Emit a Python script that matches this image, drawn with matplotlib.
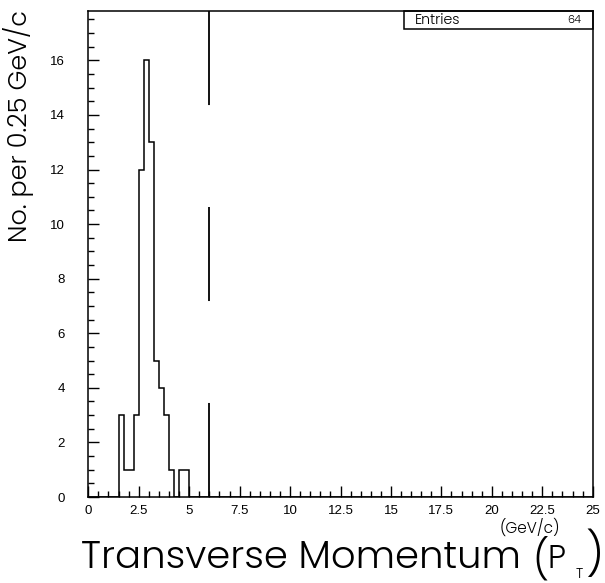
import numpy as np
import matplotlib
matplotlib.use("Agg")
import matplotlib.pyplot as plt
from matplotlib.ticker import MultipleLocator, FixedLocator

# Transverse momentum spectrum, 0.25 GeV/c bins
bin_width = 0.25
pt_range = (0.0, 25.0)
filled_bin_lo = [1.50, 1.75, 2.00, 2.25, 2.50, 2.75, 3.00, 3.25, 3.50, 3.75, 4.00, 4.25, 4.50, 4.75]
filled_counts = [3, 1, 1, 3, 12, 16, 13, 5, 4, 3, 1, 0, 1, 1]
entries = 64
cut_pt = 6.0

x_tick_values = [0, 2.5, 5, 7.5, 10, 12.5, 15, 17.5, 20, 22.5, 25]
x_tick_labels = ["0", "2.5", "5", "7.5", "10", "12.5", "15", "17.5", "20", "22.5", "25"]
y_tick_values = [0, 2, 4, 6, 8, 10, 12, 14, 16]

edges = np.arange(pt_range[0], pt_range[1] + bin_width / 2, bin_width)
counts = np.zeros(len(edges) - 1)
for lo, c in zip(filled_bin_lo, filled_counts):
    counts[int(round((lo - pt_range[0]) / bin_width))] = c

plt.rcParams["lines.scale_dashes"] = False
W, H = 605, 583
fig = plt.figure(figsize=(W / 100, H / 100), dpi=100)
renderer = fig.canvas.get_renderer()


def px(x, y):
    """Pixel position (from the top-left corner) to figure fraction."""
    return x / W, 1 - y / H


def fit_width(txt, width_px):
    """Rescale a text's font size so its rendered extent spans width_px."""
    bb = txt.get_window_extent(renderer)
    w = bb.height if txt.get_rotation() in (90, 270) else bb.width
    txt.set_fontsize(txt.get_fontsize() * width_px / w)


ax_left, ax_right, ax_top, ax_bottom = 88.3, 592.7, 10.7, 497.0
ax = fig.add_axes([ax_left / W, 1 - ax_bottom / H,
                   (ax_right - ax_left) / W, (ax_bottom - ax_top) / H])

ax.stairs(counts, edges, color="black", linewidth=1.1, baseline=0)
ax.axvline(cut_pt, color="black", linewidth=1.3, linestyle=(0, (67.7, 73.4)))

ax.set_xlim(*pt_range)
ax.set_ylim(0, 17.82)

tick_font = dict(family="Liberation Sans", size=9.5)
ax.xaxis.set_major_locator(FixedLocator(x_tick_values))
ax.set_xticklabels(x_tick_labels, **tick_font)
ax.xaxis.set_minor_locator(MultipleLocator(0.5))
ax.yaxis.set_major_locator(FixedLocator(y_tick_values))
ax.set_yticklabels([str(v) for v in y_tick_values], **tick_font)
ax.yaxis.set_minor_locator(MultipleLocator(0.5))
ax.tick_params(which="both", direction="in", top=False, right=False, width=1.0)
ax.tick_params(which="major", length=8)
ax.tick_params(which="minor", length=4)
ax.tick_params(axis="x", pad=6)
ax.tick_params(axis="y", pad=17)
for s in ax.spines.values():
    s.set_linewidth(1.1)

label_font = dict(family="Poppins", fontweight=300, color="black")
title_font = dict(family="Poppins", fontweight=300, color="black")

# Statistics box in the top-right corner
box_x0 = (404 - ax_left) / (ax_right - ax_left)
box_y0 = 1 - (29.3 - ax_top) / (ax_bottom - ax_top)
ax.add_patch(plt.Rectangle((box_x0, box_y0), 1 - box_x0, 1 - box_y0,
                           transform=ax.transAxes, fill=False, edgecolor="black",
                           linewidth=1.1, clip_on=False))
t = fig.text(*px(415, 20.5), "Entries", ha="left", va="center", fontsize=9, **label_font)
fit_width(t, 46)
t = fig.text(*px(581, 20.5), f"{entries}", ha="right", va="center", fontsize=9, **label_font)
fit_width(t, 14)

# Axis titles
t = fig.text(*px(19, 126), "No. per 0.25 GeV/c", rotation=90, ha="center",
             va="center", fontsize=16, **title_font)
fit_width(t, 232)
t = fig.text(*px(81, 568), "Transverse Momentum", ha="left", va="baseline",
             fontsize=26, **title_font)
fit_width(t, 440)
fig.text(*px(500, 533), "(GeV/c)", ha="left", va="baseline", fontsize=11, **label_font)
fig.text(*px(540, 560), "(", ha="center", va="center", fontsize=28, **title_font)
fig.text(*px(548, 568), "P", ha="left", va="baseline", fontsize=23, **title_font)
fig.text(*px(576, 578), "T", ha="left", va="baseline", fontsize=10, **label_font)
fig.text(*px(594, 556), ")", ha="center", va="center", fontsize=31, **title_font)

fig.savefig("out.png", dpi=100)
